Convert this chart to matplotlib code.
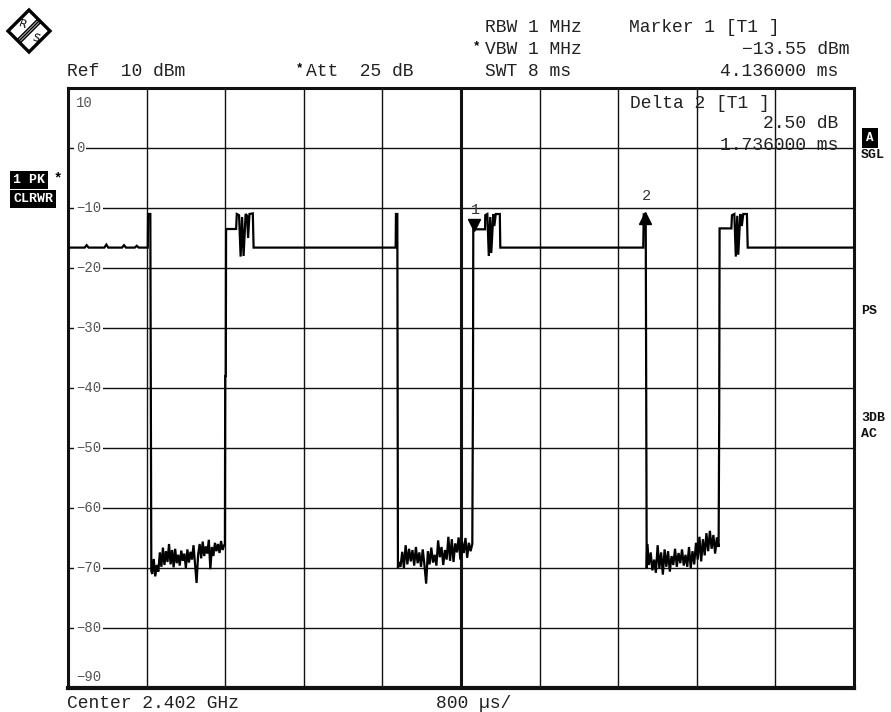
import numpy as np
import matplotlib
matplotlib.use("Agg")
import matplotlib.pyplot as plt
from matplotlib.patches import Polygon
from matplotlib.lines import Line2D
import matplotlib.transforms as mtransforms

W, H = 891, 712
MONO = ['Liberation Mono', 'DejaVu Sans Mono']

# ---------------- data ----------------
sweep_ms = 8.0
div_ms = 0.8
y_top, y_bottom = 10, -90
y_ticks = [10, 0, -10, -20, -30, -40, -50, -60, -70, -80, -90]
y_tick_labels = ['10', '0', '−10', '−20', '−30', '−40', '−50', '−60', '−70', '−80', '−90']

# flat part before first burst
pre_t = [0.00, 0.17, 0.19, 0.21, 0.37, 0.39, 0.41, 0.55, 0.57, 0.59, 0.68, 0.70, 0.72, 0.812]
pre_db = [-16.6, -16.6, -16.2, -16.6, -16.6, -16.1, -16.6, -16.6, -16.2, -16.6, -16.6, -16.3, -16.6, -16.6]

burst_a_t = [0.815, 0.838, 0.848]
burst_a_db = [-11.0, -11.0, -70.5]

noise1_span = (0.857, 1.589)
noise1_db = [-71.0, -68.5, -71.4, -69.5, -70.6, -67.4, -69.8, -66.6, -69.5, -67.2, -69.0, -66.0,
             -69.4, -67.0, -69.9, -66.8, -69.2, -67.8, -69.6, -67.1, -68.8, -67.6, -70.0, -66.9,
             -69.1, -67.3, -68.6, -66.2, -69.4, -72.5, -67.8, -66.0, -68.4, -65.6, -68.0, -66.4,
             -67.6, -65.3, -70.2, -66.5, -68.0, -65.8, -67.2, -66.0, -67.5, -65.5, -67.0, -66.2]

burst_b_t = [1.597, 1.600, 1.606, 1.609, 1.711, 1.718, 1.741, 1.757, 1.772, 1.787, 1.808, 1.823,
             1.833, 1.847, 1.881, 1.889, 3.335, 3.338, 3.352, 3.358]
burst_b_db = [-66.0, -38.0, -38.0, -13.5, -13.5, -11.0, -11.2, -18.1, -11.5, -18.0, -11.0, -11.3,
              -15.0, -11.0, -10.9, -16.6, -16.6, -11.0, -11.0, -70.0]

noise2_span = (3.367, 4.115)
noise2_db = [-69.0, -69.8, -67.3, -70.0, -66.2, -69.4, -66.8, -68.9, -67.0, -69.6, -66.5, -69.2,
             -67.4, -69.8, -66.9, -69.5, -72.6, -67.2, -69.4, -66.6, -69.1, -67.8, -69.6, -65.4,
             -68.2, -66.5, -69.5, -67.0, -68.6, -64.8, -68.8, -65.2, -69.0, -65.9, -67.4, -64.9,
             -68.6, -65.6, -67.5, -65.0, -68.3, -65.8, -67.2, -66.0]

burst_c_t = [4.122, 4.125, 4.245, 4.247, 4.268, 4.283, 4.298, 4.308, 4.329, 4.339, 4.354, 4.395,
             4.400, 5.855, 5.860, 5.880, 5.890]
burst_c_db = [-40.0, -13.55, -13.55, -11.2, -11.0, -18.0, -11.5, -17.5, -11.0, -13.0, -11.0, -11.0,
              -16.6, -16.6, -11.05, -11.05, -70.0]

noise3_span = (5.895, 6.622)
noise3_db = [-66.0, -69.5, -67.4, -70.4, -68.6, -70.8, -66.2, -70.0, -67.4, -71.1, -66.9, -69.8,
             -67.2, -70.6, -68.0, -69.5, -66.8, -69.8, -67.5, -69.2, -66.9, -69.6, -67.8, -69.8,
             -66.5, -70.0, -67.2, -69.4, -65.8, -68.6, -64.8, -68.9, -65.2, -67.9, -64.2, -67.2,
             -63.8, -66.8, -64.5, -67.6, -64.9, -66.5]

burst_d_t = [6.628, 6.632, 6.752, 6.758, 6.782, 6.797, 6.812, 6.822, 6.843, 6.858, 6.873, 6.910,
             6.918, 8.0]
burst_d_db = [-45.0, -13.4, -13.4, -11.2, -11.0, -18.1, -11.3, -17.8, -11.0, -13.0, -11.0, -11.0,
              -16.6, -16.6]

marker_ids = ['1', '2']
marker_t = [4.136, 5.872]
marker_db = [-13.55, -11.05]

# ---------------- build trace ----------------
def noise_seg(span, vals):
    return list(np.linspace(span[0], span[1], len(vals))), list(vals)

n1t, n1d = noise_seg(noise1_span, noise1_db)
n2t, n2d = noise_seg(noise2_span, noise2_db)
n3t, n3d = noise_seg(noise3_span, noise3_db)
trace_t = pre_t + burst_a_t + n1t + burst_b_t + n2t + burst_c_t + n3t + burst_d_t
trace_db = pre_db + burst_a_db + n1d + burst_b_db + n2d + burst_c_db + n3d + burst_d_db

# ---------------- figure ----------------
fig = plt.figure(figsize=(W / 100, H / 100), dpi=100)
fig.patch.set_facecolor('white')

def fx(px):
    return px / W

def fy(py):
    return 1 - py / H

ax_l, ax_r, ax_t, ax_b = 68, 854, 88, 688
ax = fig.add_axes([fx(ax_l), fy(ax_b), (ax_r - ax_l) / W, (ax_b - ax_t) / H])
ax.set_xlim(0, sweep_ms)
ax.set_ylim(y_bottom, y_top)
ax.set_xticks(np.arange(0, sweep_ms + 1e-6, div_ms))
ax.set_yticks(y_ticks)
ax.tick_params(length=0, labelleft=False, labelbottom=False)
ax.grid(True, color='#111111', lw=1.0)
ax.set_axisbelow(True)
ax.axvline(sweep_ms / 2, color='#111111', lw=2.2, zorder=1)
for sp in ax.spines.values():
    sp.set_linewidth(2.2)
    sp.set_color('#111111')
ax.spines['bottom'].set_linewidth(3.0)

ax.plot(trace_t, trace_db, color='black', lw=1.6, zorder=3, solid_joinstyle='miter')

# y labels inside the frame
btrans = mtransforms.blended_transform_factory(ax.transAxes, ax.transData)
lab_x = (76 - ax_l) / (ax_r - ax_l)
for v, s in zip(y_ticks, y_tick_labels):
    yy = v
    bb = dict(facecolor='white', edgecolor='none', pad=1.2)
    if v == y_top:
        yy = v - 2.5
        bb = None
    elif v == y_bottom:
        yy = v + 1.8
        bb = None
    ax.text(lab_x, yy, s, transform=btrans, ha='left', va='center', family=MONO,
            fontsize=10, color='#555555', bbox=bb, zorder=4)

# markers
for mid, mt, md in zip(marker_ids, marker_t, marker_db):
    if mid == '1':
        ax.plot([mt], [md], marker='v', color='black', ms=8.5, zorder=5,
                transform=ax.transData + mtransforms.ScaledTranslation(0, 0.04, fig.dpi_scale_trans))
        ax.annotate(mid, (mt, md), xytext=(1, 14), textcoords='offset points', ha='center',
                    va='center', family=MONO, fontsize=11, color='#333333', zorder=5)
    else:
        ax.plot([mt], [md], marker='^', color='black', ms=8, zorder=5,
                transform=ax.transData + mtransforms.ScaledTranslation(0, -0.04, fig.dpi_scale_trans))
        ax.annotate(mid, (mt, md), xytext=(1, 13), textcoords='offset points', ha='center',
                    va='center', family=MONO, fontsize=11, color='#333333', zorder=5)

# text helper in pixel coordinates
def ptext(x, y, s, ha='left', size=13, color='#222222', weight='normal', bbox=None):
    fig.text(fx(x), fy(y), s, ha=ha, va='center', family=MONO, fontsize=size,
             color=color, fontweight=weight, bbox=bbox, zorder=10)

# header
ptext(485, 27, 'RBW 1 MHz')
ptext(629, 27, 'Marker 1 [T1 ]')
ptext(473, 46, '*', size=9, weight='bold', color='black')
ptext(485, 49, 'VBW 1 MHz')
ptext(850, 49, '−13.55 dBm', ha='right')
ptext(67, 71, 'Ref  10 dBm')
ptext(296, 68, '*', size=9, weight='bold', color='black')
ptext(306, 71, 'Att  25 dB')
ptext(485, 71, 'SWT 8 ms')
ptext(838, 71, '4.136000 ms', ha='right')

# delta marker info inside the plot
ptext(630, 103, 'Delta 2 [T1 ]')
ptext(838, 124, '2.50 dB', ha='right')
ptext(838, 145, '1.736000 ms', ha='right')

# footer
ptext(67, 704, 'Center 2.402 GHz')
ptext(436, 704, '800 µs/')

# left status labels
blk = dict(facecolor='black', edgecolor='none', pad=1.8)
ptext(13, 180, '1 PK', size=9.5, weight='bold', color='white', bbox=blk)
ptext(54, 178, '*', size=10, weight='bold', color='black')
ptext(13, 199, 'CLRWR', size=9.5, weight='bold', color='white', bbox=blk)

# right status labels
ptext(870, 138, 'A', size=9, weight='bold', color='white', ha='center',
      bbox=dict(facecolor='black', edgecolor='none', pad=2.8))
ptext(861, 155, 'SGL', size=9.5, weight='bold', color='#111111')
ptext(861, 311, 'PS', size=9.5, weight='bold', color='#111111')
ptext(861, 418, '3DB', size=9.5, weight='bold', color='#111111')
ptext(861, 434, 'AC', size=9.5, weight='bold', color='#111111')

# R&S logo
cx, cy, r = 29, 31, 21
diamond = [(fx(cx), fy(cy - r)), (fx(cx + r), fy(cy)), (fx(cx), fy(cy + r)), (fx(cx - r), fy(cy))]
fig.patches.append(Polygon(diamond, closed=True, facecolor='white', edgecolor='black', lw=2.4,
                           transform=fig.transFigure, figure=fig))
for d in (-2.2, 0, 2.2):
    x0, y0 = cx + r / 2 + d * 0.707, cy - r / 2 + d * 0.707
    x1, y1 = cx - r / 2 + d * 0.707, cy + r / 2 + d * 0.707
    fig.lines.append(Line2D([fx(x0), fx(x1)], [fy(y0), fy(y1)], color='black', lw=1.1,
                            transform=fig.transFigure, figure=fig))
fig.text(fx(23), fy(25), 'R', ha='center', va='center', fontsize=8, family='DejaVu Sans', rotation=-20)
fig.text(fx(36), fy(38), 'S', ha='center', va='center', fontsize=8, family='DejaVu Sans', rotation=-20)

fig.savefig('out.png', dpi=100)
